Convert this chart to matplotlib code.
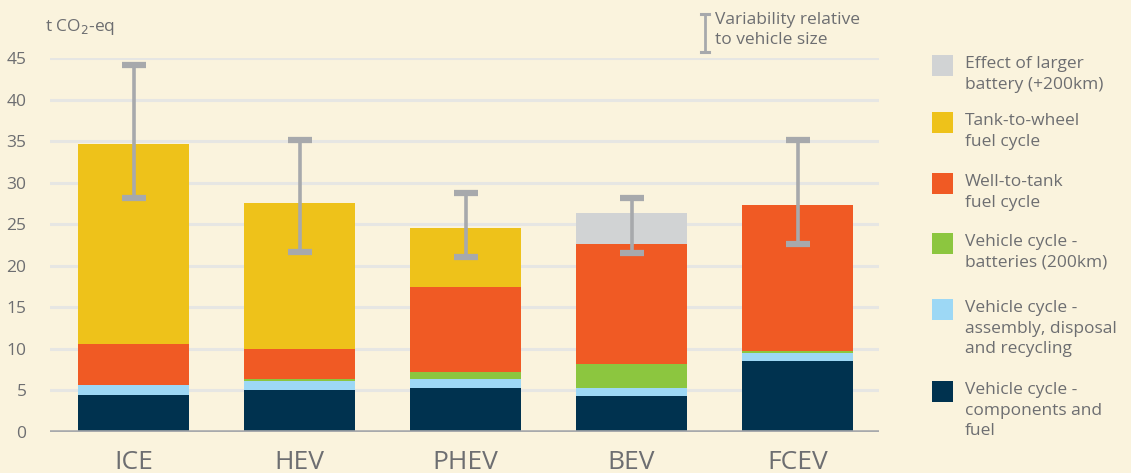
import matplotlib
matplotlib.use("Agg")
import matplotlib.pyplot as plt
import numpy as np
from matplotlib.patches import Rectangle

plt.rcParams['font.family'] = ['Open Sans', 'DejaVu Sans']

# data (t CO2-eq)
vehicles = ["ICE", "HEV", "PHEV", "BEV", "FCEV"]
components = [4.45, 5.05, 5.3, 4.35, 8.55]
assembly = [1.2, 1.1, 1.1, 0.95, 0.95]
batteries = [0.0, 0.25, 0.8, 2.9, 0.25]
well_to_tank = [4.95, 3.6, 10.3, 14.4, 17.6]
tank_to_wheel = [24.0, 17.5, 7.1, 0.0, 0.0]
larger_battery = [0.0, 0.0, 0.0, 3.7, 0.0]
var_low = [28.2, 21.7, 21.1, 21.5, 22.6]
var_high = [44.2, 35.1, 28.7, 28.2, 35.1]

series = [
    (components, "#00324f", "Vehicle cycle -\ncomponents and\nfuel"),
    (assembly, "#9dd8f5", "Vehicle cycle -\nassembly, disposal\nand recycling"),
    (batteries, "#8cc63f", "Vehicle cycle -\nbatteries (200km)"),
    (well_to_tank, "#f05a24", "Well-to-tank\nfuel cycle"),
    (tank_to_wheel, "#eec21a", "Tank-to-wheel\nfuel cycle"),
    (larger_battery, "#d1d3d4", "Effect of larger\nbattery (+200km)"),
]

bg = "#faf3dd"
txt = "#6d6e71"
errc = "#a7a9ac"

fig = plt.figure(figsize=(11.31, 4.73), dpi=100, facecolor=bg)
ax = fig.add_axes([50 / 1131, 1 - 432 / 473, 829 / 1131, 374 / 473])
ax.set_facecolor(bg)

x = np.arange(len(vehicles))
bottom = np.zeros(len(vehicles))
for vals, col, lab in series:
    ax.bar(x, vals, width=0.67, bottom=bottom, color=col, linewidth=0, zorder=2)
    bottom += np.array(vals)

# variability bars
lo = np.array(var_low)
hi = np.array(var_high)
ax.errorbar(x, hi, yerr=[hi - lo, np.zeros_like(hi)], fmt='none', ecolor=errc,
            elinewidth=2.6, capsize=8.3, capthick=4.5, zorder=3)

ax.set_xlim(-0.503, 4.49)
ax.set_ylim(0, 45)
ax.set_yticks(np.arange(0, 46, 5))
for yv in np.arange(5, 46, 5):
    ax.axhline(yv, color="#e6e6e3", lw=2.2, zorder=1)
ax.axhline(0, color=errc, lw=2.6, zorder=4)
for s in ax.spines.values():
    s.set_visible(False)
ax.tick_params(axis='y', length=0, pad=17, labelsize=12.5, labelcolor=txt)
ax.set_xticks(x)
ax.set_xticklabels(vehicles)
ax.tick_params(axis='x', length=0, pad=13, labelsize=19, labelcolor=txt)

fig.text(45 / 1131, 1 - 27 / 473, "t CO$_2$-eq", color=txt, fontsize=12.5, va='center', ha='left')

# variability key
kx = 705 / 1131
fig.add_artist(plt.Line2D([kx, kx], [1 - 14 / 473, 1 - 52 / 473], color=errc, lw=2))
for yy in (14, 52):
    fig.add_artist(plt.Line2D([kx - 4 / 1131, kx + 4 / 1131], [1 - yy / 473] * 2, color=errc, lw=2.2))
fig.text(715 / 1131, 1 - 12 / 473, "Variability relative\nto vehicle size", color=txt,
         fontsize=12.5, va='top', ha='left', linespacing=1.3)

# legend on the right
tops = [381, 299, 233, 173, 112, 55]
for (vals, col, lab), ty in zip(series, tops):
    fig.add_artist(Rectangle((932 / 1131, 1 - (ty + 21) / 473), 21 / 1131, 21 / 473,
                             transform=fig.transFigure, color=col, lw=0))
    fig.text(965 / 1131, 1 - (ty + 1) / 473, lab, color=txt, fontsize=12.5,
             va='top', ha='left', linespacing=1.38)

fig.savefig("out.png", dpi=100, facecolor=bg)
